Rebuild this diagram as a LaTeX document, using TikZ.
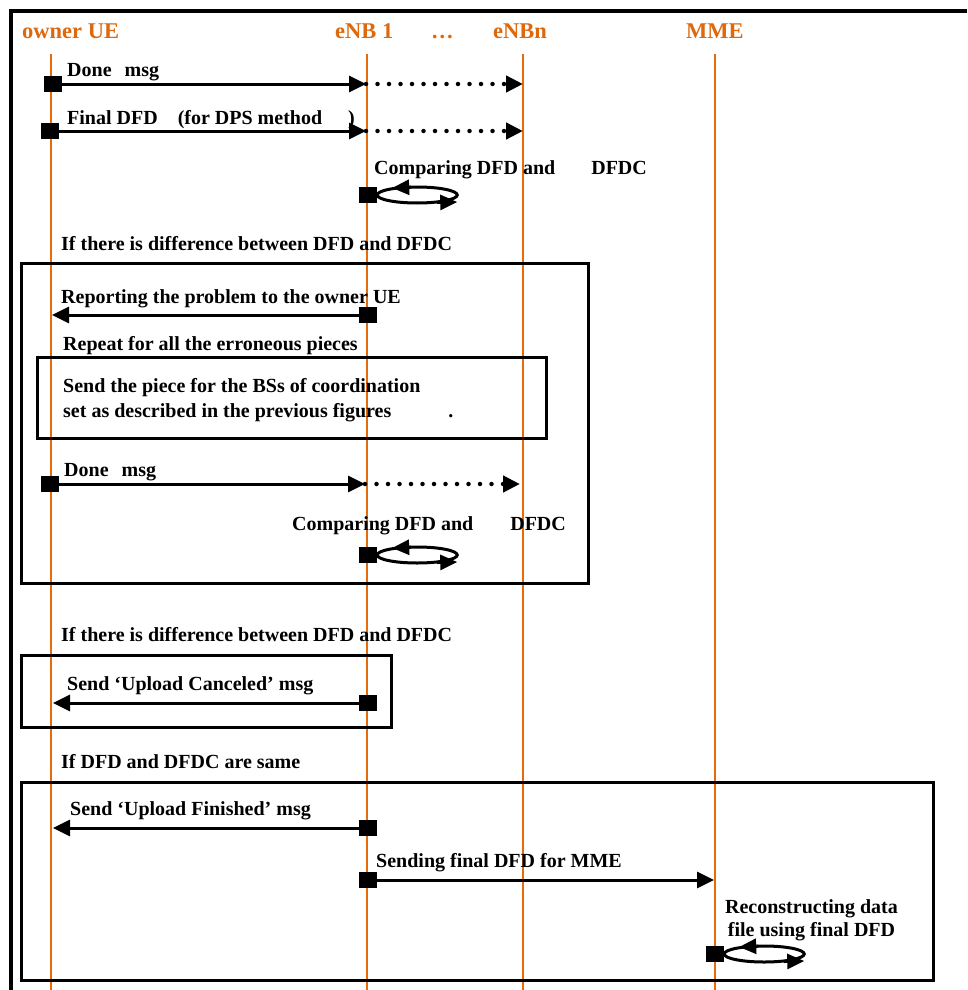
\documentclass[tikz,border=0pt]{standalone}
\usepackage{fontspec}
\setmainfont{Liberation Serif}
\usetikzlibrary{arrows.meta,calc}
\definecolor{lifeorange}{RGB}{228,108,10}
\definecolor{headorange}{RGB}{222,104,12}

\begin{document}
\begin{tikzpicture}[x=1pt,y=1pt,
  lbl/.style={font=\fontsize{20}{23}\selectfont\bfseries, inner sep=0pt, anchor=base west},
  head/.style={font=\fontsize{22.5}{26}\selectfont\bfseries, text=headorange, inner sep=0pt, anchor=base west},
  life/.style={lifeorange, line width=2.8pt},
  act/.style={fill=black, draw=none, minimum width=18pt, minimum height=16pt, inner sep=0pt},
  msg/.style={line width=3pt, -{Triangle[length=17pt,width=16pt]}},
  fwd/.style={line width=4.5pt, dash pattern=on 0pt off 11.5pt, line cap=round, -{Triangle[length=17pt,width=16pt]}},
  frame/.style={line width=3pt},
  looppath/.style={line width=3pt},
  looptip/.style={line width=3pt, -{Triangle[length=17pt,width=15pt]}},
]
\useasboundingbox (0,0) rectangle (967,-990);

% outer frame (top and left edges only)
\draw[line width=3.5pt] (967,-11) -- (11,-11) -- (11,-990);

% lifeline headers
\node[head] (hUE)  at (22,-38)  {owner UE};
\node[head] (hE1)  at (335,-38) {eNB 1};
\node[head] (hDot) at (431,-38) {\dots};
\node[head] (hEn)  at (493,-38) {eNBn};
\node[head] (hMME) at (686,-38) {MME};

% lifelines
\coordinate (ueTop)  at (51,-54);  \coordinate (ueBot)  at (51,-990);
\coordinate (e1Top)  at (367,-54); \coordinate (e1Bot)  at (367,-990);
\coordinate (enTop)  at (523,-54); \coordinate (enBot)  at (523,-990);
\coordinate (mmeTop) at (715,-54); \coordinate (mmeBot) at (715,-990);
\draw[life] (ueTop) -- (ueBot);
\draw[life] (e1Top) -- (e1Bot);
\draw[life] (enTop) -- (enBot);
\draw[life] (mmeTop) -- (mmeBot);

% combined fragments
\draw[frame] (21,-263) rectangle (588,-583);
\draw[frame] (37,-357) rectangle (546,-438);
\draw[frame] (21,-655) rectangle (391,-727);
\draw[frame] (21,-782) rectangle (933,-980);

% fragment guards and notes
\node[lbl] (g1) at (61,-250) {If there is difference between DFD and DFDC};
\node[lbl] (g2) at (63,-350) {Repeat for all the erroneous pieces};
\node[lbl] (n1) at (63,-392) {Send the piece for the BSs of coordination};
\node[lbl] (n2) at (63,-417) {set as described in the previous figures\hspace{57pt}.};
\node[lbl] (g3) at (61,-641) {If there is difference between DFD and DFDC};
\node[lbl] (g4) at (61,-768) {If DFD and DFDC are same};

% --- Done msg
\node[act] (a1) at (53,-84) {};
\coordinate (a1e1) at (366,-84); \coordinate (a1en) at (523,-84);
\draw[msg] (a1.east) -- (a1e1);
\draw[fwd] (a1e1) -- (a1en);
\node[lbl] (t1) at (67,-76) {Done\hspace{13pt}msg};

% --- Final DFD
\node[act] (a2) at (50,-131) {};
\coordinate (a2e1) at (366,-131); \coordinate (a2en) at (523,-131);
\draw[msg] (a2.east) -- (a2e1);
\draw[fwd] (a2e1) -- (a2en);
\node[lbl] (t2) at (67,-124) {Final DFD\hspace{20pt}(for DPS method\hspace{26pt})};

% --- Comparing (first)
\node[act] (a3) at (368,-195) {};
\coordinate (c3) at ($(a3.east)+(40,0)$);
\draw[looppath] (c3) ellipse [x radius=40, y radius=8];
\draw[looptip] ($(c3)+(-6,7.8)$) -- ($(c3)+(-25,7)$);
\draw[looptip] ($(c3)+(20,-7.5)$) -- ($(c3)+(40,-7)$);
\node[lbl] (t3) at (374,-174) {Comparing DFD and\hspace{36pt}DFDC};

% --- Reporting the problem
\node[act] (a4) at (368,-315) {};
\coordinate (a4ue) at (52,-315);
\draw[msg] (a4.west) -- (a4ue);
\node[lbl] (t4) at (61,-303) {Reporting the problem to the owner UE};

% --- Done msg (second)
\node[act] (a5) at (50,-484) {};
\coordinate (a5e1) at (365,-484); \coordinate (a5en) at (520,-484);
\draw[msg] (a5.east) -- (a5e1);
\draw[fwd] (a5e1) -- (a5en);
\node[lbl] (t5) at (64,-476) {Done\hspace{13pt}msg};

% --- Comparing (second)
\node[act] (a6) at (368,-555) {};
\coordinate (c6) at ($(a6.east)+(40,0)$);
\draw[looppath] (c6) ellipse [x radius=40, y radius=8];
\draw[looptip] ($(c6)+(-6,7.8)$) -- ($(c6)+(-25,7)$);
\draw[looptip] ($(c6)+(20,-7.5)$) -- ($(c6)+(40,-7)$);
\node[lbl] (t6) at (292,-530) {Comparing DFD and\hspace{37pt}DFDC};

% --- Upload Canceled
\node[act] (a7) at (368,-703) {};
\coordinate (a7ue) at (53,-703);
\draw[msg] (a7.west) -- (a7ue);
\node[lbl] (t7) at (67,-690) {Send ‘Upload Canceled’ msg};

% --- Upload Finished
\node[act] (a8) at (368,-828) {};
\coordinate (a8ue) at (53,-828);
\draw[msg] (a8.west) -- (a8ue);
\node[lbl] (t8) at (70,-815) {Send ‘Upload Finished’ msg};

% --- Sending final DFD for MME
\node[act] (a9) at (368,-880) {};
\coordinate (a9mme) at (714,-880);
\draw[msg] (a9.east) -- (a9mme);
\node[lbl] (t9) at (376,-867) {Sending final DFD for MME};

% --- Reconstructing at MME
\node[act] (a10) at (715,-954) {};
\coordinate (c10) at ($(a10.east)+(40,0)$);
\draw[looppath] (c10) ellipse [x radius=40, y radius=8];
\draw[looptip] ($(c10)+(-6,7.8)$) -- ($(c10)+(-25,7)$);
\draw[looptip] ($(c10)+(20,-7.5)$) -- ($(c10)+(40,-7)$);
\node[font=\fontsize{20}{23}\selectfont\bfseries, inner sep=0pt, align=center, anchor=north]
  (t10) at (811.5,-899) {Reconstructing data\\file using final DFD};

\end{tikzpicture}
\end{document}
